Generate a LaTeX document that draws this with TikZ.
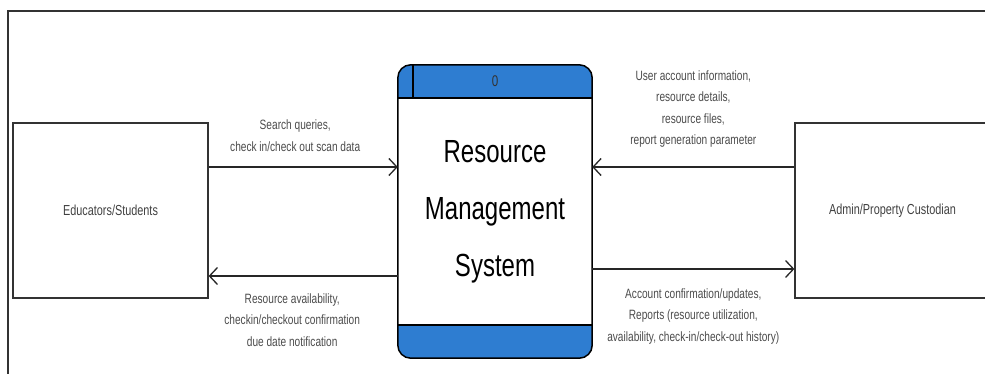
\documentclass[tikz,border=0pt]{standalone}
\usepackage{fontspec}
\setmainfont[FakeStretch=0.75]{Liberation Sans}
\usetikzlibrary{arrows.meta}

\definecolor{procblue}{RGB}{46,125,209}
\definecolor{labelgray}{RGB}{75,75,75}

\tikzset{
    entity/.style = {draw=black!80, line width=1.2pt, minimum width=195pt, minimum height=175pt, text=black!75, font=\fontsize{14.5}{17}\selectfont},
    flow/.style = {draw=black!85, line width=1.3pt, -{Straight Barb[length=8pt,width=17pt]}},
    flowlabel/.style = {align=center, text=labelgray, inner sep=0pt, font=\fontsize{13.5}{21.5}\selectfont}
}

\begin{document}
\begin{tikzpicture}[x=1pt, y=-1pt]
        \useasboundingbox (0,0) rectangle (985,374);
        \draw[black!80, line width=1.2pt] (8,374) -- (8,11) -- (990,11);

        % external entities
        \node[entity] (edu) at (110.5,210.5) {Educators/Students};
        \node[entity] (admin) at (892.5,210.5) {Admin/Property Custodian};

        % process 0
        \node[minimum width=194pt, minimum height=293pt] (rms) at (495,211.5) {};
        \begin{scope}
            \clip[rounded corners=13pt] (rms.north west) rectangle (rms.south east);
            \fill[procblue] (rms.north west) rectangle ([yshift=-33pt]rms.north east);
            \fill[procblue] ([yshift=33pt]rms.south west) rectangle (rms.south east);
        \end{scope}
        \draw[line width=1.5pt, rounded corners=13pt] (rms.north west) rectangle (rms.south east);
        \draw[line width=1.5pt] ([yshift=-33pt]rms.north west) -- ([yshift=-33pt]rms.north east)
            ([yshift=33pt]rms.south west) -- ([yshift=33pt]rms.south east)
            ([xshift=15pt]rms.north west) -- ([xshift=15pt,yshift=-33pt]rms.north west);
        \node[text=black!80, font=\fontsize{15.5}{17}\selectfont] (rmsid) at ([yshift=-16pt]rms.north) {0};
        \node[align=center, font=\fontsize{32}{57}\selectfont] (rmsname) at (rms.center) {Resource\\Management\\System};

        % data flows
        \draw[flow] ([yshift=43.5pt]edu.east) -- ([yshift=43.5pt]edu.east -| rms.west)
            node[flowlabel, midway, above=15pt, xshift=-8pt] {Search queries,\\check in/check out scan data};
        \draw[flow] ([yshift=-64.5pt]rms.west) -- ([yshift=-64.5pt]rms.west -| edu.east)
            node[flowlabel, midway, below=17pt, xshift=-11pt] {Resource availability,\\checkin/checkout confirmation\\due date notification};
        \draw[flow] ([yshift=43.5pt]admin.west) -- ([yshift=43.5pt]admin.west -| rms.east)
            node[flowlabel, midway, above=19pt] {User account information,\\resource details,\\resource files,\\report generation parameter};
        \draw[flow] ([yshift=-57.5pt]rms.east) -- ([yshift=-57.5pt]rms.east -| admin.west)
            node[flowlabel, midway, below=19pt] {Account confirmation/updates,\\Reports (resource utilization,\\availability, check-in/check-out history)};
\end{tikzpicture}
\end{document}
